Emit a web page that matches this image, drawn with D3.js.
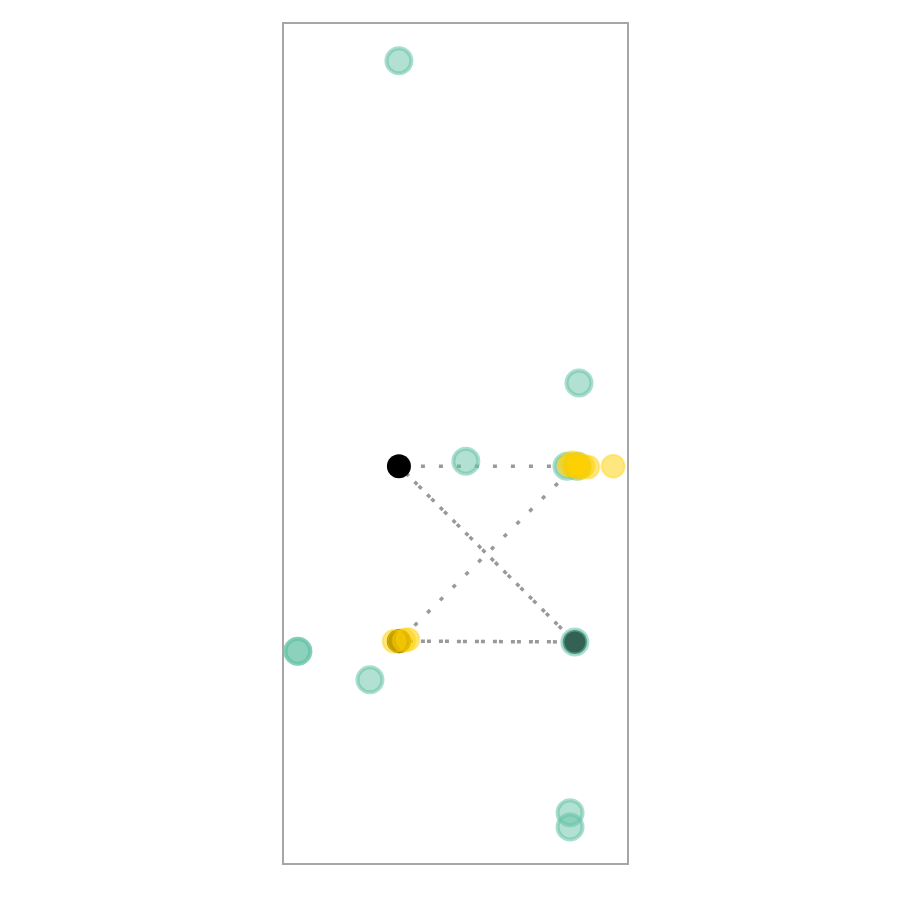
<!DOCTYPE html>
<html><head><meta charset="utf-8">
<script src="https://cdn.jsdelivr.net/npm/d3@7"></script>
<style>body{margin:0;background:#fff}</style>
</head><body>
<svg id="chart" width="900" height="900"></svg>
<script>
// Data in plot units (x: 0-100 left->right, y: 0-100 top->bottom)
const hubs = [
  {id:"A", x:33.6, y:52.7, drawn:true},
  {id:"B", x:33.6, y:73.5, drawn:true},
  {id:"C", x:84.6, y:73.6, drawn:true},
  {id:"D", x:84.6, y:52.7, drawn:false}
];
const links = [
  {s:"A", t:"D", n:1},
  {s:"A", t:"C", n:2},
  {s:"B", t:"D", n:1},
  {s:"B", t:"C", n:2}
];
const greenX = [33.6, 85.8, 53.0, 82.3, 84.6, 4.3, 4.3, 25.2, 83.2, 83.2, 85.2];
const greenY = [4.5, 42.8, 52.1, 52.7, 73.6, 74.7, 74.7, 78.1, 93.9, 95.6, 52.7];
const yellowX = [82.9, 84.3, 85.5, 87.0, 88.4, 83.8, 86.0, 95.7, 32.2, 33.6, 35.1, 36.2];
const yellowY = [52.6, 52.7, 52.4, 52.7, 52.8, 52.3, 52.9, 52.7, 73.5, 73.5, 73.4, 73.3];

const svg = d3.select("#chart");
const x = d3.scaleLinear().domain([0,100]).range([283,628]);
const y = d3.scaleLinear().domain([0,100]).range([23,864]);

svg.append("rect").attr("x",x(0)).attr("y",y(0))
  .attr("width",x(100)-x(0)).attr("height",y(100)-y(0))
  .attr("fill","none").attr("stroke","#a6a6a6").attr("stroke-width",2);

const hub = Object.fromEntries(hubs.map(d=>[d.id,d]));
const lg = svg.append("g");
links.forEach(l=>{
  const a=hub[l.s], b=hub[l.t];
  for(let i=0;i<l.n;i++){
    lg.append("line")
      .attr("x1",x(a.x)).attr("y1",y(a.y)).attr("x2",x(b.x)).attr("y2",y(b.y))
      .attr("stroke","#999").attr("stroke-width",3.5)
      .attr("stroke-dasharray","4,14").attr("stroke-dashoffset", -4 - i*6);
  }
});

svg.append("g").selectAll("circle").data(hubs.filter(d=>d.drawn)).join("circle")
  .attr("cx",d=>x(d.x)).attr("cy",d=>y(d.y)).attr("r",12).attr("fill","#000");

svg.append("g").selectAll("circle").data(greenX.map((v,i)=>[v,greenY[i]])).join("circle")
  .attr("cx",d=>x(d[0])).attr("cy",d=>y(d[1])).attr("r",12.5)
  .attr("fill","#66c2a5").attr("fill-opacity",0.5)
  .attr("stroke","#66c2a5").attr("stroke-opacity",0.55).attr("stroke-width",4);

svg.append("g").selectAll("circle").data(yellowX.map((v,i)=>[v,yellowY[i]])).join("circle")
  .attr("cx",d=>x(d[0])).attr("cy",d=>y(d[1])).attr("r",11.5)
  .attr("fill","#ffd000").attr("fill-opacity",0.5)
  .attr("stroke","#ffd000").attr("stroke-opacity",0.35).attr("stroke-width",2);
</script>
</body></html>
